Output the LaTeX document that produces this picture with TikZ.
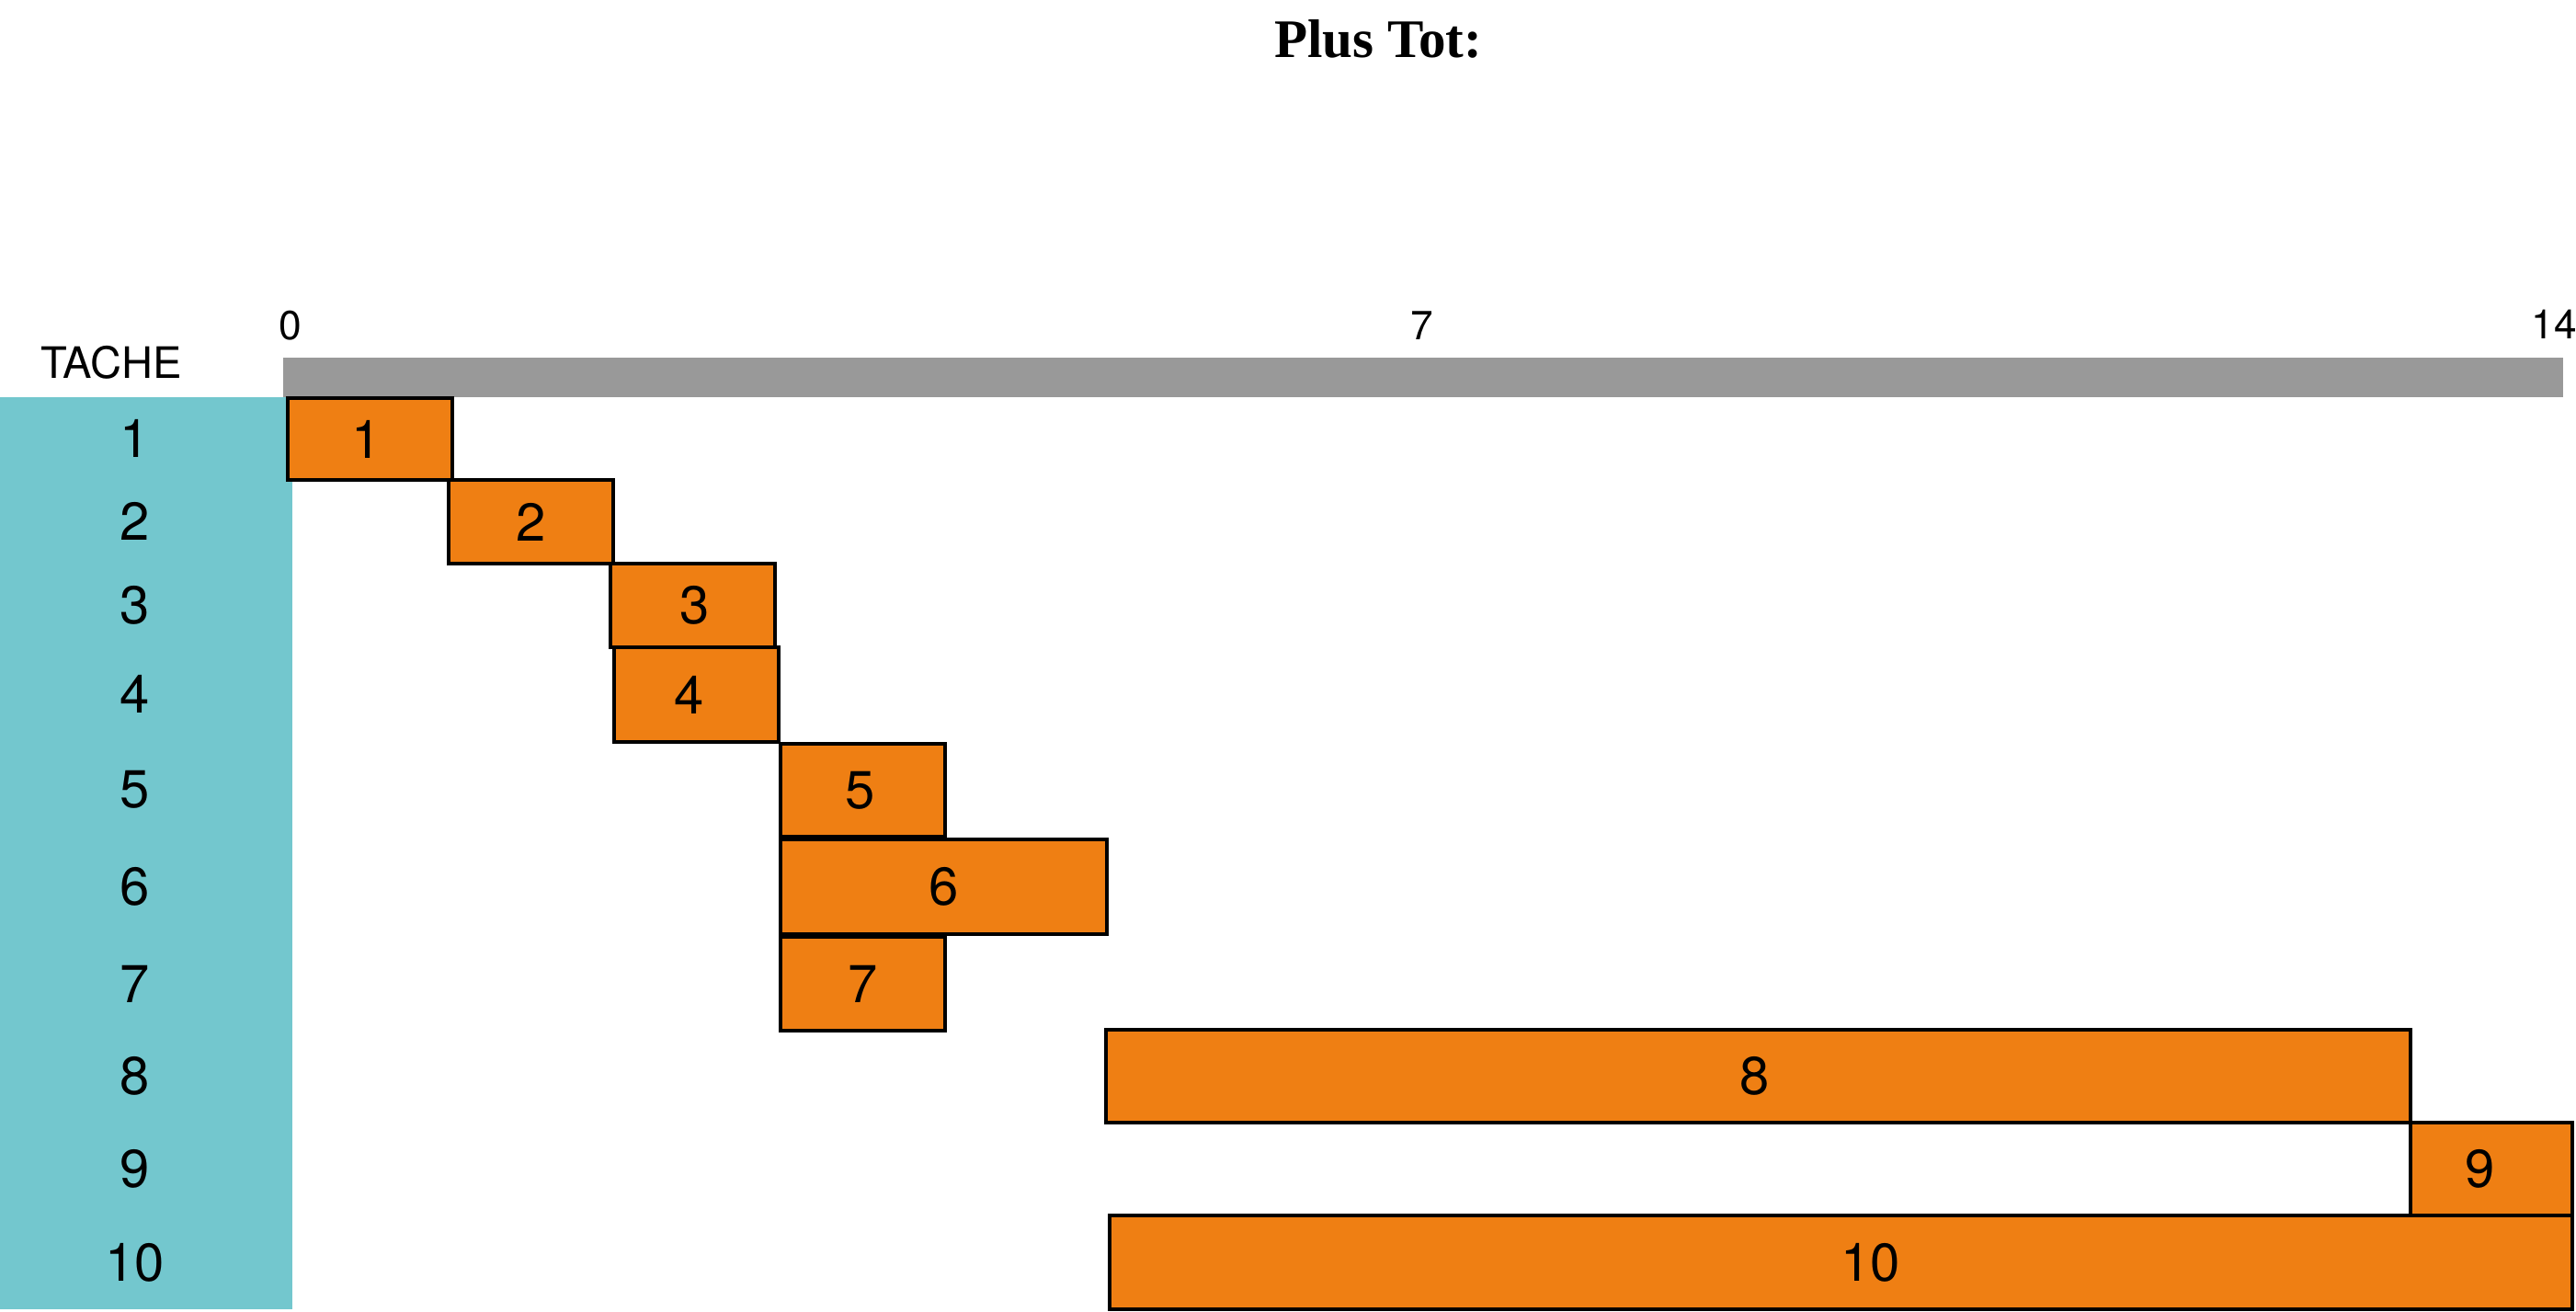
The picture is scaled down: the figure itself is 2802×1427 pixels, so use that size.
\documentclass[tikz,border=0pt]{standalone}
\usepackage{fontspec}
\newfontfamily\hv{TeX Gyre Heros}
\newfontfamily\ttl{Liberation Serif}
\definecolor{tealcol}{HTML}{73C7CE}
\definecolor{orng}{HTML}{EF7F13}
\definecolor{axisgray}{HTML}{999999}
\tikzset{
  ganttbox/.style={draw=black, line width=1pt, fill=orng, inner sep=0pt},
  barlab/.style={inner sep=0pt, text=black, font=\hv\fontsize{16.5}{18}\selectfont},
  rowlab/.style={inner sep=0pt, font=\hv\fontsize{16.5}{18}\selectfont},
  axlab/.style={inner sep=0pt, anchor=base, font=\hv\fontsize{12.6}{14}\selectfont},
}
% #1 name, #2-#5 box corners (px), #6 label, #7 label x offset (px)
\newcommand\ganttbar[7]{%
  \node[ganttbox, minimum width={(#4-#2)*0.1mm}, minimum height={(#5-#3)*0.1mm}] (#1) at ({(#2+#4)/2},{(#3+#5)/2}) {};
  \node[barlab] (#1lab) at ([xshift={#7*0.1mm}]#1.center) {#6};}
\begin{document}
\begin{tikzpicture}[x=0.1mm,y=-0.1mm]
\useasboundingbox[fill=white] (0,0) rectangle (2802,1427);
% title
\node[inner sep=0pt, anchor=base, font=\ttl\bfseries\fontsize{16.8}{19}\selectfont] (title) at (1499,62) {Plus Tot:};
% task column
\fill[tealcol] (0,432) rectangle (318,1424);
\node[axlab, font=\hv\fontsize{13.4}{15}\selectfont] (tache) at (121,411) {TACHE};
% axis bar
\fill[axisgray] (308,389) rectangle (2788,432);
\node[axlab] (t0) at (316,369) {0};
\node[axlab] (t7) at (1547,369) {7};
\node[axlab] (t14) at (2778,368) {14};
% row labels
\foreach \n/\y in {1/477,2/567,3/658,4/755,5/859,6/964,7/1070,8/1170,9/1271,10/1373}
  \node[rowlab] (r\n) at (147,\y) {\n};
% bars
\ganttbar{b1}{313}{433}{492}{522}{1}{-4}
\ganttbar{b2}{488}{522}{667}{613}{2}{0}
\ganttbar{b3}{664}{613}{843}{704}{3}{2}
\ganttbar{b4}{668}{704}{847}{807}{4}{-8}
\ganttbar{b5}{849}{809}{1028}{910}{5}{-3}
\ganttbar{b6}{849}{913}{1204}{1016}{6}{0}
\ganttbar{b7}{849}{1019}{1028}{1121}{7}{0}
\ganttbar{b8}{1203}{1120}{2622}{1221}{8}{-4}
\ganttbar{b9}{2622}{1221}{2798}{1322}{9}{-12}
\ganttbar{b10}{1207}{1322}{2798}{1424}{10}{32}
\end{tikzpicture}
\end{document}
